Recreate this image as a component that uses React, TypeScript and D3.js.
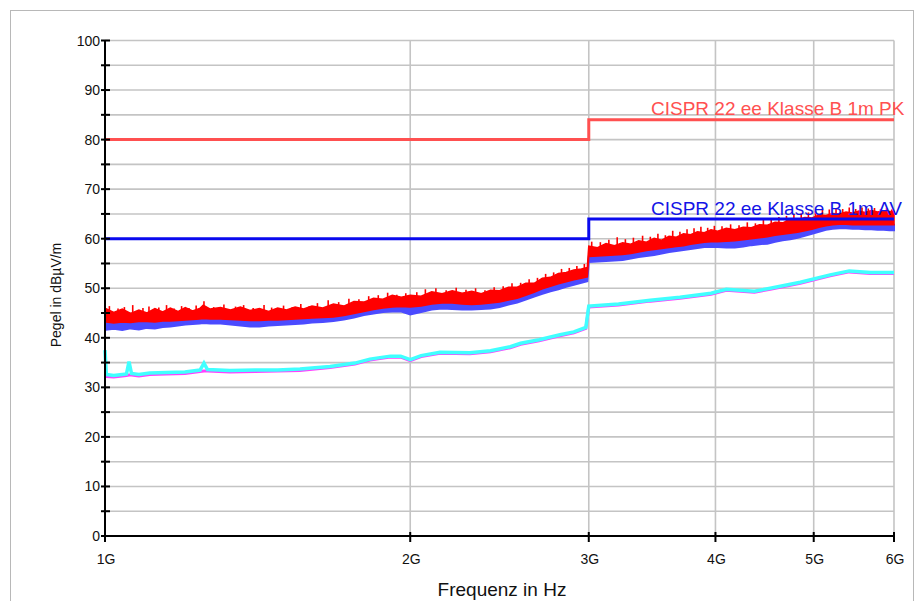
import React, { useEffect, useRef } from "react";
import * as d3 from "d3";

// frequency grid of the scanned traces (GHz)
const scanFreq = [
  1.0, 1.02, 1.04, 1.06, 1.08, 1.1, 1.12, 1.14, 1.16, 1.18,
  1.2, 1.22, 1.24, 1.25, 1.27, 1.3, 1.33, 1.36, 1.39, 1.42,
  1.45, 1.48, 1.51, 1.54, 1.57, 1.6, 1.64, 1.68, 1.72, 1.76,
  1.8, 1.84, 1.88, 1.92, 1.96, 2.0, 2.05, 2.1, 2.15, 2.2,
  2.25, 2.3, 2.35, 2.4, 2.45, 2.5, 2.55, 2.6, 2.65, 2.7,
  2.75, 2.8, 2.85, 2.9, 2.95, 2.99, 3.0, 3.06, 3.12, 3.18,
  3.24, 3.3, 3.36, 3.42, 3.48, 3.54, 3.6, 3.66, 3.72, 3.78,
  3.84, 3.9, 3.96, 4.02, 4.1, 4.18, 4.26, 4.34, 4.42, 4.5,
  4.58, 4.66, 4.74, 4.82, 4.9, 4.98, 5.06, 5.14, 5.22, 5.3,
  5.38, 5.46, 5.54, 5.62, 5.7, 5.78, 5.86, 5.94, 6.0,
];

// peak detector, upper edge of the red band (dBµV/m)
const peakTop = [
  46.0, 45.1, 45.8, 44.9, 45.6, 45.0, 45.9, 45.2, 46.0, 45.3,
  46.1, 45.4, 45.9, 46.6, 45.8, 46.1, 45.6, 46.2, 45.5, 45.9,
  45.3, 46.0, 45.6, 46.2, 45.8, 46.4, 46.0, 46.8, 46.4, 47.3,
  47.2, 48.0, 47.8, 48.6, 48.2, 48.6, 48.4, 49.3, 48.9, 49.5,
  49.0, 49.4, 48.9, 49.6, 49.5, 50.2, 50.2, 51.0, 51.0, 52.0,
  52.2, 53.0, 53.2, 53.7, 53.9, 54.2, 58.5, 58.2, 59.0, 58.6,
  59.2, 58.9, 59.6, 59.3, 60.1, 59.7, 60.5, 60.3, 61.0, 60.8,
  61.4, 61.2, 61.8, 61.5, 62.1, 61.8, 62.3, 62.2, 62.8, 62.7,
  63.3, 63.2, 63.9, 63.8, 64.3, 64.2, 64.8, 64.7, 65.1, 65.0,
  65.4, 65.2, 65.6, 65.3, 65.7, 65.4, 65.6, 65.5, 65.5,
];

// peak detector, lower edge of the red band
const peakBottom = [
  43.2, 43.0, 43.2, 43.1, 43.3, 43.3, 43.2, 43.4, 43.4, 43.5,
  43.6, 43.7, 43.8, 43.9, 43.8, 43.8, 43.7, 43.6, 43.5, 43.5,
  43.6, 43.6, 43.7, 43.8, 43.9, 44.0, 44.1, 44.2, 44.5, 44.9,
  45.3, 45.7, 46.0, 46.2, 46.3, 46.2, 46.4, 46.8, 47.0, 47.0,
  46.8, 46.7, 46.8, 47.0, 47.2, 47.6, 48.0, 48.6, 49.2, 49.9,
  50.4, 50.9, 51.3, 51.7, 52.0, 52.3, 56.4, 56.5, 56.6, 56.7,
  56.8, 57.0, 57.3, 57.6, 57.8, 58.0, 58.2, 58.4, 58.6, 58.9,
  59.1, 59.3, 59.4, 59.4, 59.5, 59.6, 59.8, 60.0, 60.2, 60.4,
  60.7, 60.9, 61.1, 61.3, 61.6, 61.9, 62.3, 62.6, 62.8, 62.9,
  62.9, 62.8, 62.8, 62.8, 62.8, 62.8, 62.8, 62.8, 62.8,
];

// average detector, lower edge of the blue band
const avgBottom = [
  41.6, 41.8, 41.6, 41.9, 41.7, 42.0, 41.9, 42.2, 42.3, 42.5,
  42.7, 42.8, 42.9, 43.0, 42.9, 42.9, 42.7, 42.5, 42.3, 42.3,
  42.5, 42.6, 42.7, 42.8, 42.9, 43.1, 43.2, 43.4, 43.7, 44.1,
  44.6, 44.9, 45.2, 45.3, 45.3, 44.7, 45.2, 45.7, 45.9, 45.8,
  45.7, 45.7, 45.8, 45.9, 46.2, 46.7, 47.1, 47.7, 48.3, 48.9,
  49.4, 49.8, 50.3, 50.7, 51.1, 51.4, 55.3, 55.4, 55.5, 55.6,
  55.7, 56.0, 56.3, 56.5, 56.7, 57.0, 57.3, 57.5, 57.7, 57.9,
  58.1, 58.3, 58.4, 58.3, 58.2, 58.2, 58.4, 58.7, 58.9, 59.0,
  59.4, 59.7, 59.9, 60.2, 60.6, 61.0, 61.4, 61.8, 62.0, 62.1,
  62.1, 62.0, 62.0, 61.9, 61.9, 61.8, 61.8, 61.7, 61.7,
];

// narrow peak-detector spikes rising above the band
const spikeFreq = [
  1.01, 1.03, 1.045, 1.065, 1.09, 1.105, 1.13, 1.15, 1.17, 1.19,
  1.21, 1.23, 1.252, 1.28, 1.31, 1.345, 1.37, 1.4, 1.435, 1.46,
  1.5, 1.53, 1.56, 1.59, 1.62, 1.66, 1.7, 1.74, 1.78, 1.82,
  1.86, 1.9, 1.94, 1.98, 2.03, 2.07, 2.12, 2.17, 2.22, 2.27,
  2.32, 2.37, 2.42, 2.47, 2.52, 2.57, 2.62, 2.67, 2.72, 2.77,
  2.82, 2.87, 2.92, 2.97, 3.02, 3.08, 3.14, 3.2, 3.26, 3.32,
  3.39, 3.45, 3.51, 3.57, 3.63, 3.69, 3.75, 3.81, 3.87, 3.93,
  3.99, 4.06, 4.14, 4.22, 4.3, 4.38, 4.46, 4.54, 4.62, 4.7,
  4.78, 4.86, 4.94, 5.02, 5.1, 5.18, 5.26, 5.34, 5.42, 5.5,
  5.58, 5.66, 5.74, 5.82, 5.9, 5.97,
];
const spikeLevel = [
  46.4, 45.9, 46.2, 46.6, 46.0, 46.3, 46.1, 46.6, 45.9, 46.4,
  46.0, 46.5, 47.4, 46.2, 46.7, 46.3, 46.6, 46.0, 46.6, 46.1,
  46.5, 46.2, 46.8, 46.4, 47.0, 47.6, 47.2, 47.9, 47.8, 48.4,
  48.6, 49.1, 48.7, 49.0, 49.2, 49.8, 50.0, 49.6, 50.1, 49.7,
  50.0, 49.6, 50.2, 50.4, 51.0, 51.1, 51.8, 52.1, 52.9, 53.2,
  53.9, 54.1, 54.5, 54.9, 59.4, 59.3, 59.8, 60.3, 59.9, 60.2,
  60.6, 60.4, 61.0, 60.7, 61.6, 61.4, 61.9, 62.1, 62.4, 62.2,
  62.6, 62.5, 62.9, 62.7, 63.3, 63.1, 63.8, 64.0, 64.4, 64.6,
  64.9, 65.1, 65.3, 65.6, 65.8, 65.9, 66.1, 66.0, 66.3, 66.0,
  66.3, 66.1, 66.2, 66.0, 66.2, 65.9,
];

// second measurement (cyan / magenta)
const sweepFreq = [
  1.0, 1.003, 1.02, 1.04, 1.05, 1.056, 1.062, 1.08, 1.107, 1.15,
  1.199, 1.241, 1.252, 1.262, 1.328, 1.406, 1.48, 1.557, 1.667, 1.764,
  1.825, 1.867, 1.912, 1.957, 2.0, 2.05, 2.14, 2.29, 2.4, 2.51,
  2.57, 2.68, 2.81, 2.9, 2.98, 3.0, 3.21, 3.45, 3.69, 3.96,
  4.1, 4.37, 4.53, 4.85, 5.19, 5.42, 5.69, 6.0,
];
const cyanLevel = [
  37.5, 32.6, 32.4, 32.6, 32.7, 35.2, 32.8, 32.6, 32.9, 33.0,
  33.1, 33.5, 34.9, 33.6, 33.4, 33.5, 33.5, 33.7, 34.2, 34.9,
  35.7, 36.0, 36.3, 36.3, 35.6, 36.4, 37.1, 37.0, 37.4, 38.2,
  38.9, 39.6, 40.6, 41.2, 42.1, 46.4, 46.8, 47.6, 48.2, 49.0,
  49.8, 49.4, 50.0, 51.2, 52.7, 53.5, 53.2, 53.2,
];
const magentaLevel = [
  32.3, 32.2, 32.1, 32.3, 32.4, 32.5, 32.5, 32.3, 32.6, 32.7,
  32.8, 33.2, 33.3, 33.3, 33.1, 33.2, 33.3, 33.4, 34.0, 34.7,
  35.5, 35.8, 36.1, 36.1, 35.4, 36.2, 36.9, 36.8, 37.2, 38.0,
  38.7, 39.4, 40.4, 41.0, 41.9, 46.2, 46.6, 47.4, 48.0, 48.8,
  49.6, 49.2, 49.8, 51.0, 52.5, 53.3, 53.0, 53.0,
];

// limit lines
const limitFreq = [1, 3, 3, 6];
const limitPK = [80, 80, 84, 84];
const limitAV = [60, 60, 64, 64];

const xTicks = [1, 2, 3, 4, 5, 6];
const xTickLabels = ["1G", "2G", "3G", "4G", "5G", "6G"];
const yTicks = [0, 10, 20, 30, 40, 50, 60, 70, 80, 90, 100];
const yMinorTicks = [5, 15, 25, 35, 45, 55, 65, 75, 85, 95];

const FONT = "'Liberation Sans', Arial, Helvetica, sans-serif";

const App = () => {
  const ref = useRef<HTMLDivElement>(null);

  useEffect(() => {
    const width = 916;
    const height = 601;

    d3.select(ref.current).select("svg").remove();

    const svg = d3
      .select(ref.current)
      .append("svg")
      .attr("width", width)
      .attr("height", height)
      .style("position", "absolute")
      .style("left", "0px")
      .style("top", "0px")
      .style("background", "#fff");

    const x = d3.scaleLog().domain([1, 6]).range([105, 894]);
    const y = d3.scaleLinear().domain([0, 100]).range([536, 40.5]);

    // outer frame
    svg
      .append("rect")
      .attr("x", 10.5)
      .attr("y", 10.5)
      .attr("width", 903)
      .attr("height", 620)
      .attr("fill", "none")
      .attr("stroke", "#b8b8b8")
      .attr("stroke-width", 1);

    // grid
    const grid = svg.append("g").attr("stroke", "#c4c4c4").attr("stroke-width", 1.6);
    [...yTicks.slice(1), ...yMinorTicks].forEach((v) => {
      grid
        .append("line")
        .attr("x1", x(1))
        .attr("x2", x(6))
        .attr("y1", y(v))
        .attr("y2", y(v));
    });
    xTicks.slice(1).forEach((f) => {
      grid
        .append("line")
        .attr("x1", x(f))
        .attr("x2", x(f))
        .attr("y1", y(0))
        .attr("y2", y(100));
    });

    const idx = scanFreq.map((_, i) => i);

    // blue average band
    const avgArea = d3
      .area<number>()
      .x((i) => x(scanFreq[i]))
      .y0((i) => y(avgBottom[i]))
      .y1((i) => y(peakBottom[i]));
    svg
      .append("path")
      .attr("d", avgArea(idx))
      .attr("fill", "#4b4bff")
      .attr("stroke", "#4b4bff")
      .attr("stroke-width", 2);

    // red peak band
    const peakArea = d3
      .area<number>()
      .x((i) => x(scanFreq[i]))
      .y0((i) => y(peakBottom[i]))
      .y1((i) => y(peakTop[i]));
    svg
      .append("path")
      .attr("d", peakArea(idx))
      .attr("fill", "#ff0000")
      .attr("stroke", "#ff0000")
      .attr("stroke-width", 1.5);

    // spikes
    svg
      .append("g")
      .selectAll("line")
      .data(spikeFreq)
      .enter()
      .append("line")
      .attr("x1", (d) => x(d))
      .attr("x2", (d) => x(d))
      .attr("y1", (d, i) => y(spikeLevel[i]))
      .attr("y2", (d, i) => y(spikeLevel[i] - 2.2))
      .attr("stroke", "#ff0000")
      .attr("stroke-width", 1.6);

    // second measurement
    const sweepIdx = sweepFreq.map((_, i) => i);
    const sweepLine = (vals: number[]) =>
      d3
        .line<number>()
        .x((i) => x(sweepFreq[i]))
        .y((i) => y(vals[i]))(sweepIdx);
    svg
      .append("path")
      .attr("d", sweepLine(magentaLevel))
      .attr("fill", "none")
      .attr("stroke", "#ff40ff")
      .attr("stroke-width", 3);
    svg
      .append("path")
      .attr("d", sweepLine(cyanLevel))
      .attr("fill", "none")
      .attr("stroke", "#40ffff")
      .attr("stroke-width", 3.5);

    // limits
    const limitLine = (vals: number[]) =>
      d3
        .line<number>()
        .x((i) => x(limitFreq[i]))
        .y((i) => y(vals[i]))(limitFreq.map((_, i) => i));
    svg
      .append("path")
      .attr("d", limitLine(limitPK))
      .attr("fill", "none")
      .attr("stroke", "#ff5050")
      .attr("stroke-width", 3);
    svg
      .append("path")
      .attr("d", limitLine(limitAV))
      .attr("fill", "none")
      .attr("stroke", "#0a0aee")
      .attr("stroke-width", 3);

    svg
      .append("text")
      .attr("x", 651)
      .attr("y", 115)
      .attr("fill", "#ff5050")
      .style("font-family", FONT)
      .style("font-size", "19px")
      .text("CISPR 22 ee Klasse B 1m PK");
    svg
      .append("text")
      .attr("x", 651)
      .attr("y", 215)
      .attr("fill", "#1414e6")
      .style("font-family", FONT)
      .style("font-size", "19px")
      .text("CISPR 22 ee Klasse B 1m AV");

    // axes
    const axes = svg.append("g").attr("stroke", "#000").attr("stroke-width", 2);
    axes
      .append("line")
      .attr("x1", x(1))
      .attr("x2", x(1))
      .attr("y1", y(0) + 1)
      .attr("y2", y(100));
    axes
      .append("line")
      .attr("x1", x(1) - 1)
      .attr("x2", x(6))
      .attr("y1", y(0))
      .attr("y2", y(0));
    [...yTicks, ...yMinorTicks].forEach((v) => {
      axes
        .append("line")
        .attr("x1", x(1) - 4)
        .attr("x2", x(1) + 5)
        .attr("y1", y(v))
        .attr("y2", y(v));
    });
    xTicks.forEach((f) => {
      axes
        .append("line")
        .attr("x1", x(f))
        .attr("x2", x(f))
        .attr("y1", y(0) - 4)
        .attr("y2", y(0) + 6);
    });

    svg
      .append("g")
      .selectAll("text")
      .data(yTicks)
      .enter()
      .append("text")
      .attr("x", x(1) - 5)
      .attr("y", (d) => y(d))
      .attr("dy", "0.36em")
      .attr("text-anchor", "end")
      .style("font-family", FONT)
      .style("font-size", "14px")
      .attr("fill", "#111")
      .text((d) => String(d));

    svg
      .append("g")
      .selectAll("text")
      .data(xTicks)
      .enter()
      .append("text")
      .attr("x", (d) => x(d) + 1)
      .attr("y", 564)
      .attr("text-anchor", "middle")
      .style("font-family", FONT)
      .style("font-size", "14px")
      .attr("fill", "#111")
      .text((d, i) => xTickLabels[i]);

    svg
      .append("text")
      .attr("x", 502)
      .attr("y", 596)
      .attr("text-anchor", "middle")
      .style("font-family", FONT)
      .style("font-size", "19px")
      .attr("fill", "#111")
      .text("Frequenz in Hz");

    svg
      .append("text")
      .attr("transform", "translate(61,295) rotate(-90)")
      .attr("text-anchor", "middle")
      .style("font-family", FONT)
      .style("font-size", "14px")
      .attr("fill", "#111")
      .text("Pegel in dBµV/m");
  }, []);

  return <div ref={ref}></div>;
};

export default App;
